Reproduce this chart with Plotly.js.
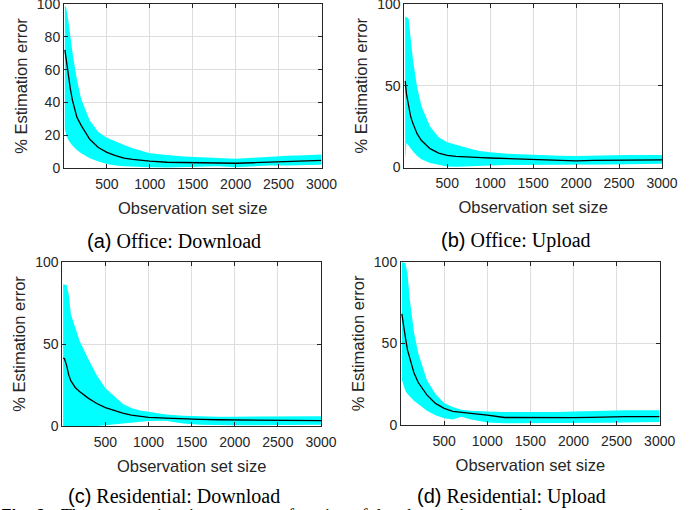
<!DOCTYPE html>
<html>
<head>
<meta charset="utf-8">
<script src="https://cdn.plot.ly/plotly-3.0.1.min.js"></script>
<style>html,body{margin:0;padding:0;background:#fff;}#chart{width:694px;height:510px;}</style>
</head>
<body>
<div id="chart"></div>
<script>
// Observation set sizes (common sampling for all panels)
const obsSize = [10, 25, 50, 75, 100, 150, 200, 300, 400, 500, 600, 700, 800, 900, 1000, 1200, 1400, 1600, 1800, 2000, 2200, 2400, 2600, 2800, 3000];

// (a) Office: Download
const officeDownMean  = [72, 66, 56, 48, 41, 31, 26, 17.5, 12.5, 9.5, 7.5, 6, 5.3, 4.7, 4.2, 3.5, 3.3, 3.4, 3.2, 2.9, 3.2, 3.6, 3.9, 4.2, 4.6];
const officeDownUpper = [99, 98, 90, 80, 70, 54, 42, 29, 22, 18.5, 16, 14, 12, 10.5, 9, 8, 7, 6.5, 6, 5.7, 6.2, 7, 7.5, 7.8, 8.2];
const officeDownLower = [24, 20, 17, 15, 13.5, 11, 9, 6, 4, 2.5, 1.5, 1, 0.7, 0.5, 0.5, 0.3, 0.5, 0.8, 1, 0.5, 1, 1.5, 1.5, 1.8, 2];

// (b) Office: Upload
const officeUpMean  = [53, 45, 38, 31, 27, 20.5, 16.5, 11.5, 8.8, 7.4, 6.8, 6.4, 6.2, 6, 5.8, 5.4, 5, 4.6, 4.3, 4.1, 4.3, 4.4, 4.5, 4.6, 4.7];
const officeUpUpper = [92, 92, 91, 80, 66, 49, 37.5, 25, 18.5, 15.5, 14, 12.8, 11, 10, 9.3, 8.4, 7.9, 7.6, 7.2, 7, 7.3, 7.6, 7.7, 7.7, 7.7];
const officeUpLower = [5, 15, 13.5, 11.5, 10, 7, 5, 2.8, 1.5, 0.6, 0.4, 0.5, 0.8, 1, 1.2, 1.5, 1.5, 1.6, 1.5, 1.5, 1.7, 1.9, 2, 2.2, 2.3];

// (c) Residential: Download
const resDownMean  = [41.5, 41, 37, 31, 27.5, 23.5, 21, 17, 13.7, 11.2, 9.5, 7.8, 6.6, 5.9, 5.3, 4.8, 4.3, 4, 3.8, 3.7, 3.5, 3.4, 3.3, 3.3, 3.3];
const resDownUpper = [86.4, 86.4, 86, 80, 68, 60, 52, 41, 31, 23, 18, 13.5, 11, 9.5, 8.7, 7, 6.2, 5.8, 5.7, 5.7, 5.8, 5.8, 5.9, 6, 6];
const resDownLower = [0, 0, 0, 0, 0, 0, 0, 0, 0, 0.5, 1, 1.5, 2, 2.5, 3, 3.2, 1.5, 0.8, 0.5, 0.5, 0.5, 0.6, 0.6, 0.7, 0.7];

// (d) Residential: Upload
const resUpMean  = [68, 62, 54, 46, 41, 32, 26, 18.4, 13.2, 10.2, 8.3, 7.8, 7, 6.5, 6.1, 4.6, 4.5, 4.5, 4.5, 4.5, 4.7, 5, 5.1, 5.1, 5.1];
const resUpUpper = [99.5, 99.5, 99, 93, 78, 57, 44, 27.5, 19, 13.5, 11, 9.3, 8.7, 8.3, 8.2, 7.9, 7.8, 7.8, 8, 8.2, 8.6, 9, 9, 9, 9];
const resUpLower = [27.5, 25, 21, 19, 17.5, 14.8, 12.8, 8.7, 6, 4.2, 3.3, 5, 3.5, 2.6, 1.5, 1, 1, 1, 1, 1, 1.2, 1.4, 1.5, 1.7, 1.8];

const xTicks = [500, 1000, 1500, 2000, 2500, 3000];
const yTicksA = [0, 20, 40, 60, 80, 100];
const yTicksB = [0, 50, 100];

const panelTitles = ["(a)", "(b)", "(c)", "(d)"];
const panelNames = ["Office: Download", "Office: Upload", "Residential: Download", "Residential: Upload"];
const xTitle = "Observation set size";
const yTitle = "% Estimation error";

const W = 694, H = 510;
const CYAN = '#00ffff';
const SANS = 'Liberation Sans, Arial, sans-serif';
const SERIF = 'Liberation Serif, Times New Roman, serif';

const panels = [
  {mean: officeDownMean, up: officeDownUpper, lo: officeDownLower, yt: yTicksA, box: [64, 321.5, 4, 168]},
  {mean: officeUpMean, up: officeUpUpper, lo: officeUpLower, yt: yTicksB, box: [404.3, 662, 4, 167.5]},
  {mean: resDownMean, up: resDownUpper, lo: resDownLower, yt: yTicksB, box: [62.3, 321, 262, 426]},
  {mean: resUpMean, up: resUpUpper, lo: resUpLower, yt: yTicksB, box: [401, 659.7, 261.7, 425]}
];

const data = [];
const layout = {
  width: W, height: H,
  margin: {l: 0, r: 0, t: 0, b: 0},
  paper_bgcolor: '#fff', plot_bgcolor: '#fff',
  showlegend: false,
  font: {family: SANS, size: 14, color: '#262626'},
  annotations: []
};

panels.forEach((p, i) => {
  const n = i === 0 ? '' : String(i + 1);
  const xa = 'x' + n, ya = 'y' + n;
  data.push({x: obsSize, y: p.lo, xaxis: xa, yaxis: ya, type: 'scatter', mode: 'lines',
             line: {width: 0, color: CYAN}, hoverinfo: 'skip'});
  data.push({x: obsSize, y: p.up, xaxis: xa, yaxis: ya, type: 'scatter', mode: 'lines',
             line: {width: 0, color: CYAN}, fill: 'tonexty', fillcolor: CYAN, hoverinfo: 'skip'});
  data.push({x: obsSize, y: p.mean, xaxis: xa, yaxis: ya, type: 'scatter', mode: 'lines',
             line: {width: 1.3, color: '#000'}});
  const [l, r, t, b] = p.box;
  const common = {showline: true, linecolor: '#262626', linewidth: 1, mirror: 'ticks',
                  ticks: 'inside', ticklen: 4, tickcolor: '#262626', tickwidth: 1,
                  showgrid: true, gridcolor: '#dedede', gridwidth: 1, zeroline: false,
                  ticklabeloverflow: 'allow',
                  tickfont: {family: SANS, size: 14, color: '#262626'}, fixedrange: true};
  layout['xaxis' + n] = Object.assign({}, common, {
    domain: [l / W, r / W], anchor: ya, range: [0, 3000], tickmode: 'array', tickvals: xTicks,
    ticklabelstandoff: 3,
    title: {text: xTitle, font: {family: SANS, size: 16.5, color: '#262626'}, standoff: 11}
  });
  layout['yaxis' + n] = Object.assign({}, common, {
    domain: [1 - b / H, 1 - t / H], anchor: xa, range: [0, 100], tickmode: 'array', tickvals: p.yt,
    title: {text: yTitle, font: {family: SANS, size: 16.5, color: '#262626'}, standoff: 5}
  });
});

const titlePos = [[174, 241], [516, 240], [174, 496], [512, 496]];
panels.forEach((p, i) => {
  layout.annotations.push({
    xref: 'paper', yref: 'paper', x: titlePos[i][0] / W, y: 1 - titlePos[i][1] / H,
    xanchor: 'center', yanchor: 'middle', showarrow: false, borderpad: 0,
    text: '<span style="font-family:Liberation Sans, Arial, sans-serif">' + panelTitles[i] + '</span> ' + panelNames[i],
    font: {family: SERIF, size: 20, color: '#000'}
  });
});

// partially visible figure caption at the very bottom (cut by the frame, as in the reference)
layout.annotations.push({
  xref: 'paper', yref: 'paper', x: 0, y: 1 - 505 / H, xanchor: 'left', yanchor: 'top', showarrow: false, borderpad: 0,
  text: '<b>Fig. 9:</b>',
  font: {family: SANS, size: 17, color: '#000'}
});
layout.annotations.push({
  xref: 'paper', yref: 'paper', x: 60 / W, y: 1 - 505 / H, xanchor: 'left', yanchor: 'top', showarrow: false, borderpad: 0,
  text: 'The mean estimation error as a function of the observation set size',
  font: {family: SERIF, size: 18, color: '#000'}
});

Plotly.newPlot('chart', data, layout, {displayModeBar: false, staticPlot: true});
</script>
</body>
</html>
